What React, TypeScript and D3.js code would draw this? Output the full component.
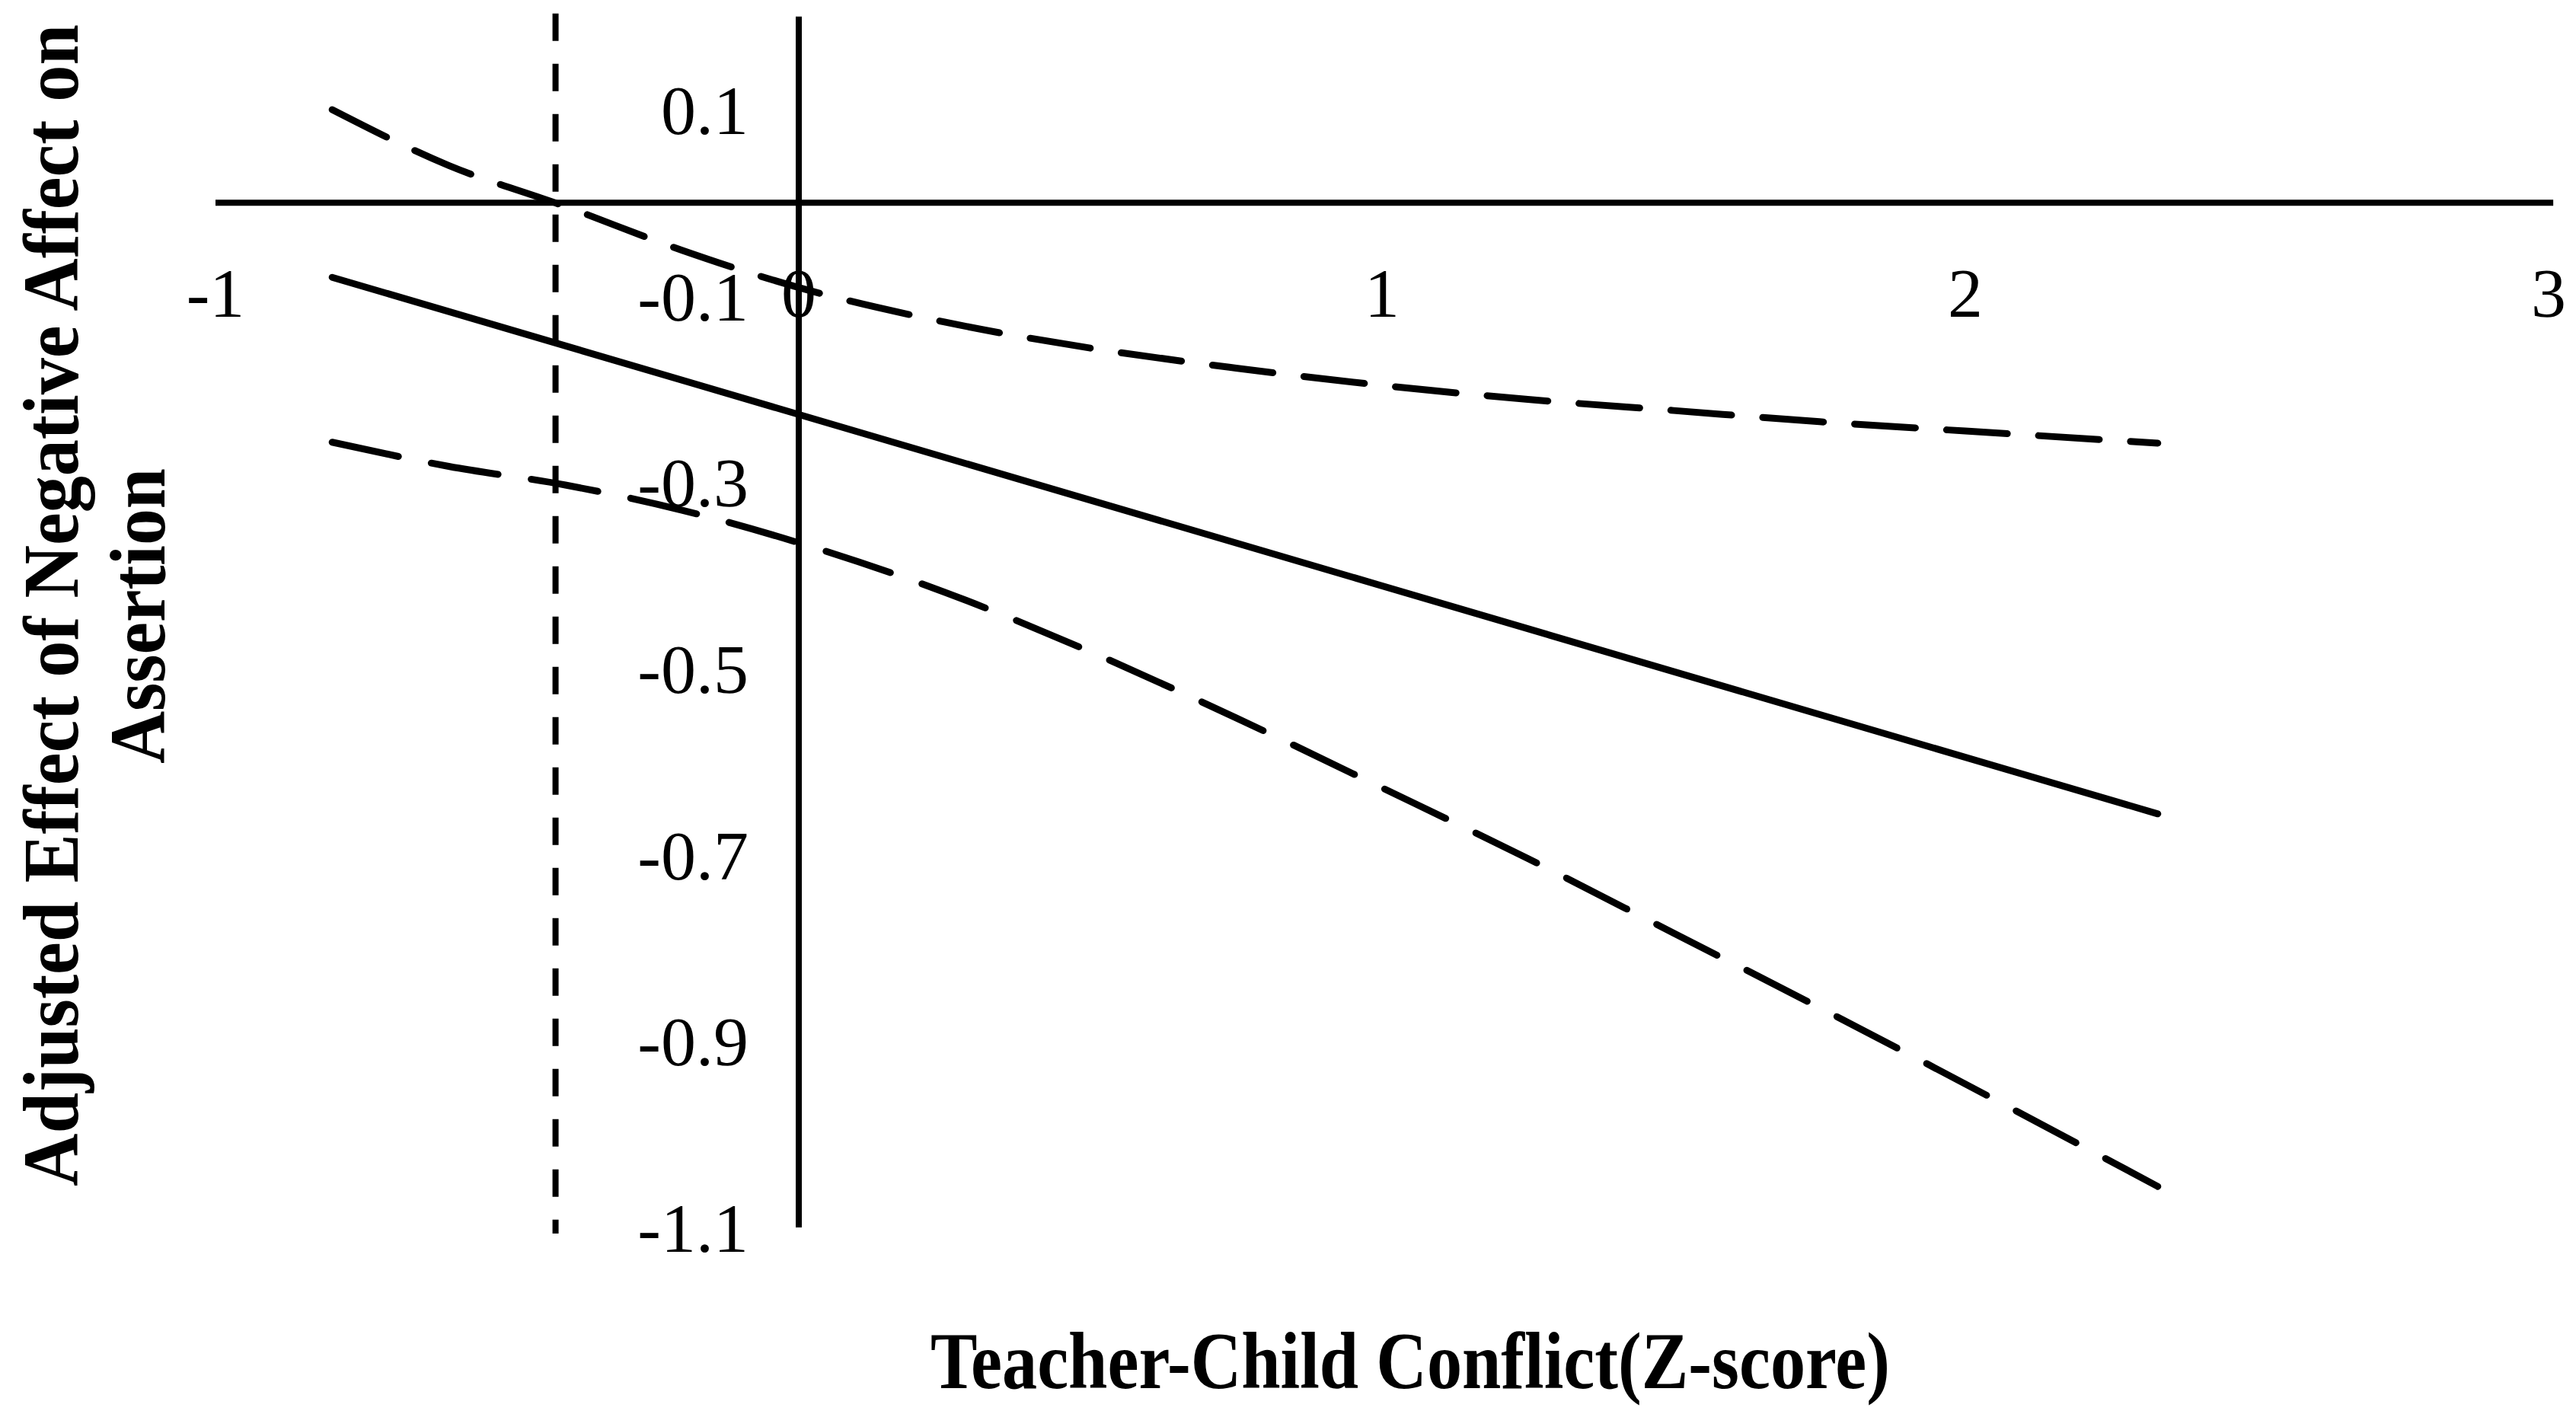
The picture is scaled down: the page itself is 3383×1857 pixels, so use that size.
import React from 'react';
import * as d3 from 'd3';

const xTicks = [-1, 0, 1, 2, 3];
const yTicks = [0.1, -0.1, -0.3, -0.5, -0.7, -0.9, -1.1];
const bandX = [-0.8, -0.6, -0.4, -0.2, 0, 0.25, 0.5, 0.75, 1.0, 1.25, 1.5, 1.75, 2.0, 2.33];
const upperCI = [0.1, 0.04, -0.004, -0.051, -0.091, -0.128, -0.156, -0.1775, -0.196, -0.211, -0.223, -0.235, -0.245, -0.258];
const lowerCI = [-0.257, -0.283, -0.303, -0.33, -0.365, -0.418, -0.482, -0.553, -0.628, -0.704, -0.784, -0.864, -0.946, -1.056];
const effectX = [-0.8, 2.33];
const effectY = [-0.08, -0.656];
const jnPoint = -0.417;
const xAxisExtent = [-1, 3.008];
const yAxisExtent = [-1.1, 0.2];
const xTitle = 'Teacher-Child Conflict(Z-score)';
const yTitle1 = 'Adjusted Effect of Negative Affect on';
const yTitle2 = 'Assertion';

const W = 3383;
const H = 1857;
const FONT = '"Liberation Serif", "Times New Roman", "DejaVu Serif", serif';

export default function App() {
  const x = d3.scaleLinear().domain([-1, 3]).range([283, 3347]);
  const y = d3.scaleLinear().domain([-1.1, 0.1]).range([1612, 144]);

  const line = d3
    .line<[number, number]>()
    .x((d) => x(d[0]))
    .y((d) => y(d[1]))
    .curve(d3.curveMonotoneX);

  const upperPts: [number, number][] = bandX.map((v, i) => [v, upperCI[i]]);
  const lowerPts: [number, number][] = bandX.map((v, i) => [v, lowerCI[i]]);
  const effPts: [number, number][] = effectX.map((v, i) => [v, effectY[i]]);

  return (
    <svg
      width={W}
      height={H}
      viewBox={`0 0 ${W} ${H}`}
      style={{ position: 'absolute', left: 0, top: 0, display: 'block', background: '#fff' }}
    >
      <rect x={0} y={0} width={W} height={H} fill="#fff" />
      {/* horizontal axis */}
      <line
        x1={x(xAxisExtent[0])}
        x2={x(xAxisExtent[1])}
        y1={y(0)}
        y2={y(0)}
        stroke="#000"
        strokeWidth={8}
      />
      {/* vertical axis */}
      <line
        x1={x(0)}
        x2={x(0)}
        y1={y(yAxisExtent[1])}
        y2={y(yAxisExtent[0])}
        stroke="#000"
        strokeWidth={8}
      />
      {/* Johnson-Neyman vertical dashed line */}
      <line
        x1={x(jnPoint)}
        x2={x(jnPoint)}
        y1={y(yAxisExtent[1]) - 4}
        y2={y(yAxisExtent[0]) + 8}
        stroke="#000"
        strokeWidth={8}
        strokeDasharray="36 30"
      />
      {/* y tick labels */}
      {yTicks.map((t) => (
        <text
          key={'y' + t}
          x={983}
          y={y(t) + 32}
          textAnchor="end"
          fontFamily={FONT}
          fontSize={92}
          fill="#000"
        >
          {t.toFixed(1)}
        </text>
      ))}
      {/* x tick labels */}
      {xTicks.map((t) => (
        <text
          key={'x' + t}
          x={x(t)}
          y={416}
          textAnchor="middle"
          fontFamily={FONT}
          fontSize={92}
          fill="#000"
        >
          {String(t)}
        </text>
      ))}
      {/* confidence bands */}
      <path
        d={line(upperPts) || ''}
        fill="none"
        stroke="#000"
        strokeWidth={9}
        strokeLinecap="round"
        strokeDasharray="80 41"
      />
      <path
        d={line(lowerPts) || ''}
        fill="none"
        stroke="#000"
        strokeWidth={9}
        strokeLinecap="round"
        strokeDasharray="89 44"
      />
      {/* simple slope line */}
      <path
        d={line(effPts) || ''}
        fill="none"
        stroke="#000"
        strokeWidth={9}
        strokeLinecap="round"
      />
      {/* axis titles */}
      <text
        x={1852}
        y={1823}
        textAnchor="middle"
        fontFamily={FONT}
        fontWeight="bold"
        fontSize={106}
        textLength={1260}
        lengthAdjust="spacingAndGlyphs"
        fill="#000"
      >
        {xTitle}
      </text>
      <text
        transform={`translate(102,795) rotate(-90)`}
        textAnchor="middle"
        fontFamily={FONT}
        fontWeight="bold"
        fontSize={104}
        textLength={1526}
        lengthAdjust="spacingAndGlyphs"
        fill="#000"
      >
        {yTitle1}
      </text>
      <text
        transform={`translate(216,809) rotate(-90)`}
        textAnchor="middle"
        fontFamily={FONT}
        fontWeight="bold"
        fontSize={104}
        textLength={388}
        lengthAdjust="spacingAndGlyphs"
        fill="#000"
      >
        {yTitle2}
      </text>
    </svg>
  );
}
